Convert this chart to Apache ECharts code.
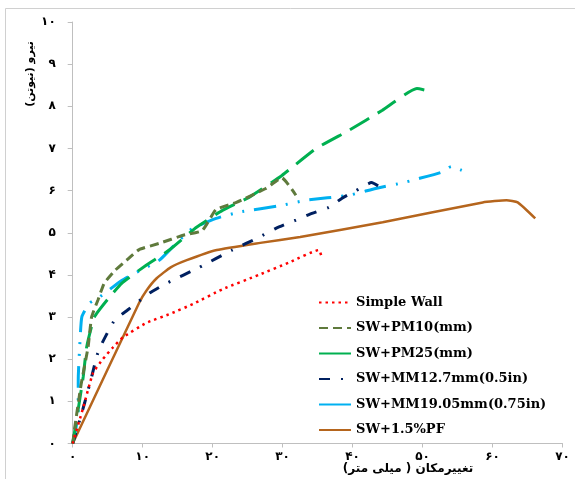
<!DOCTYPE html>
<html><head><meta charset="utf-8">
<script src="https://cdn.jsdelivr.net/npm/echarts@6/dist/echarts.min.js"></script>
<style>html,body{margin:0;padding:0;background:#fff}#c{width:575px;height:479px}</style>
</head><body><div id="c"></div>
<script>
// Data (displacement mm, force)
const seriesNames = ['Simple Wall','SW+PM10(mm)','SW+PM25(mm)','SW+MM12.7mm(0.5in)','SW+MM19.05mm(0.75in)','SW+1.5%PF'];
const simpleWall = [[0,0],[1.5,0.85],[2.9,1.67],[4.3,2.0],[5.8,2.29],[7.2,2.52],[10.5,2.86],[14,3.08],[17.2,3.31],[21.4,3.66],[26.6,4.0],[31,4.3],[35.2,4.59],[35.5,4.47]];
const pm10 = [[0,0],[0.3,0.39],[1.2,1.4],[2.2,2.29],[2.7,3.0],[3.6,3.4],[4.5,3.8],[6,4.1],[7.7,4.35],[9.5,4.6],[12.4,4.75],[15.8,4.94],[18.5,5.05],[20.5,5.55],[23.4,5.72],[27.6,6.05],[29.9,6.3],[31.9,5.89]];
const pm25 = [[0,0],[0.7,0.72],[1.5,1.58],[2.0,2.29],[3.1,3.0],[5.0,3.42],[7.0,3.8],[10.5,4.23],[13.8,4.59],[17.7,5.13],[21.4,5.53],[25.2,5.84],[29.9,6.36],[34.8,7.0],[39.5,7.43],[44.2,7.9],[49.2,8.42],[50.5,8.38]];
const mm127 = [[0,0],[0.9,0.5],[1.7,0.96],[2.7,1.58],[3.5,2.1],[4.2,2.38],[6.0,2.93],[7.8,3.16],[11.0,3.57],[13.4,3.8],[18.1,4.18],[22.8,4.59],[26.6,4.89],[29.1,5.11],[31.9,5.3],[34.2,5.46],[36.6,5.6],[38.5,5.82],[40.5,6.0],[42.7,6.19],[44.7,6.0]];
const mm1905 = [[0,0],[0.4,0.3],[0.76,0.72],[0.8,1.6],[1.0,2.29],[1.3,3.0],[2.4,3.33],[3.8,3.47],[7.0,3.87],[9.1,4.06],[12.4,4.35],[15.2,4.82],[17.1,5.1],[20.5,5.34],[23.8,5.49],[29.9,5.65],[33.3,5.77],[39.5,5.89],[43.3,6.05],[47.3,6.19],[49.1,6.27],[52.6,6.43],[54.1,6.57],[55.6,6.48]];
const pf = [[0,0],[9.5,3.34],[10.5,3.62],[12,3.92],[14,4.18],[16.3,4.35],[20.6,4.59],[26.8,4.76],[32.5,4.9],[44.3,5.25],[58.6,5.72],[62.0,5.77],[63.6,5.72],[66.1,5.34]];
const xTicks = [0,10,20,30,40,50,60,70];
const yTicks = [0,1,2,3,4,5,6,7,8,9,10];
const yAxisTitle = 'نیرو (نیوتن)';
const xAxisTitle = 'تغییرمکان ( میلی متر)';

const fa = v => String(v).replace(/\d/g, c => '۰۱۲۳۴۵۶۷۸۹'[c]);
const styles = [
  {color:'#ff0000', width:2.5, type:[2.5,4]},
  {color:'#5f7a3c', width:3, type:[9,5]},
  {color:'#00b050', width:3, type:[22,10]},
  {color:'#002060', width:3, type:[11,11,2,11]},
  {color:'#00b0f0', width:3, type:[22,10,2,10,2,10]},
  {color:'#b5651d', width:2.5, type:'solid'}
];
const datas = [simpleWall, pm10, pm25, mm127, mm1905, pf];
const chart = echarts.init(document.getElementById('c'), null, {renderer:'canvas'});
chart.setOption({
  animation:false,
  backgroundColor:'#fff',
  grid:{left:72.7, right:12.5, top:22, bottom:35.5},
  xAxis:{type:'value', min:0, max:70, interval:10,
    axisLine:{lineStyle:{color:'#bfbfbf'}}, axisTick:{length:4, lineStyle:{color:'#bfbfbf'}},
    splitLine:{show:false},
    axisLabel:{color:'#000', fontWeight:'bold', fontSize:12, fontFamily:'DejaVu Sans', margin:7, formatter:fa}},
  yAxis:{type:'value', min:0, max:10, interval:1,
    axisLine:{show:true, lineStyle:{color:'#bfbfbf'}}, axisTick:{show:true, length:5, lineStyle:{color:'#bfbfbf'}},
    splitLine:{show:false},
    axisLabel:{color:'#000', fontWeight:'bold', fontSize:12, fontFamily:'DejaVu Sans', margin:17, formatter:fa}},
  legend:{show:true, orient:'vertical', left:313, top:291, itemWidth:32, itemHeight:12, itemGap:12.5, itemTextGap:8,
    itemStyle:{opacity:0},
    textStyle:{fontFamily:'DejaVu Serif', fontWeight:'bold', fontSize:13, color:'#000'},
    data:seriesNames.map((n,i)=> (i===2||i===4) ? {name:n, lineStyle:{type:'solid'}} : {name:n})},
  graphic:[
    {type:'rect', shape:{x:5.5, y:8.5, width:600, height:500}, style:{fill:'none', stroke:'#d0d0d0', lineWidth:1}, silent:true, z:-1},
    {type:'text', x:30, y:74, rotation:Math.PI/2, style:{text:yAxisTitle, font:'bold 11px "DejaVu Sans"', fill:'#000', align:'center', verticalAlign:'middle'}},
    {type:'text', x:408, y:469, style:{text:xAxisTitle, font:'bold 12px "DejaVu Sans"', fill:'#000', align:'center', verticalAlign:'middle'}}
  ],
  series: datas.map((d,i)=>({name:seriesNames[i], type:'line', data:d, showSymbol:false, symbol:'none', smooth:0.15,
    lineStyle:{color:styles[i].color, width:styles[i].width, type:styles[i].type}, itemStyle:{color:styles[i].color}, z: 10-i}))
});
</script></body></html>
